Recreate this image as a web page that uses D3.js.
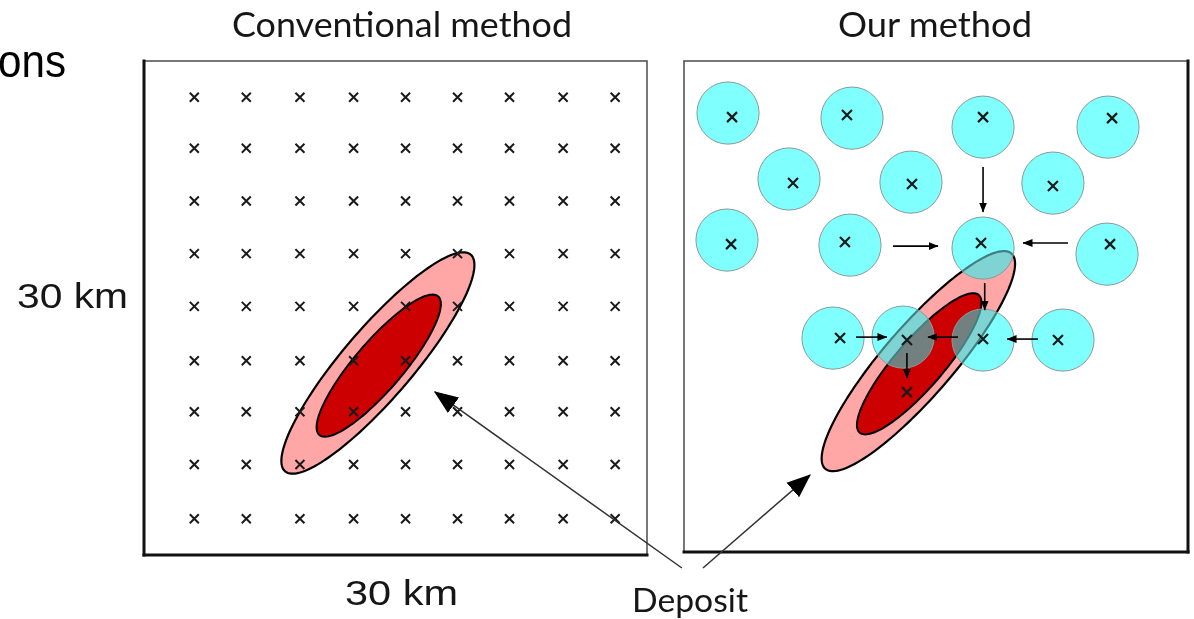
<!DOCTYPE html>
<html>
<head>
<meta charset="utf-8">
<script src="https://cdn.jsdelivr.net/npm/d3@7"></script>
<style>
  body { margin: 0; background: #fff; }
  svg { display: block; }
</style>
</head>
<body>
<div id="chart-container"></div>
<script>
'use strict'

// both panels are 30 km x 30 km
var panelExtent = [0, 30]

// conventional method: regular sampling grid (km east / km north)
var gridEast = [3.0, 6.1, 9.3, 12.5, 15.6, 18.7, 21.8, 25.0, 28.1]
var gridNorth = [27.8, 24.7, 21.5, 18.3, 15.1, 11.8, 8.7, 5.5, 2.2]

// deposit outline: [east, north, semi-major, semi-minor, angle deg]
var depositOuter = [13.95, 11.66, 8.6, 2.1, 50]
var depositInner = [14.0, 11.5, 5.5, 1.45, 50]

// our method: search circles (km) and their radius
var searchRadius = 1.85
var circleEast  = [2.62, 10.0, 17.8, 25.24, 6.25, 13.51, 21.96, 2.56, 9.88, 17.8, 25.18, 8.87, 13.04, 17.8, 22.56]
var circleNorth = [26.82, 26.51, 25.96, 25.96, 22.79, 22.6, 22.54, 19.06, 18.75, 18.57, 18.2, 13.07, 13.13, 12.95, 12.95]

// our method: sample points (km)
var sampleEast  = [2.86, 9.7, 17.8, 25.48, 6.49, 13.57, 21.96, 2.8, 9.58, 17.68, 25.36, 9.29, 13.27, 17.8, 22.26, 13.27]
var sampleNorth = [26.57, 26.7, 26.57, 26.51, 22.54, 22.48, 22.36, 18.81, 18.94, 18.88, 18.81, 13.07, 12.95, 13.01, 12.95, 9.77]

// moves of the search: [fromEast, fromNorth, toEast, toNorth]
var moves = [
    [17.8, 23.52, 17.8, 20.77],
    [12.44, 18.69, 15.12, 18.69],
    [22.86, 18.88, 20.18, 18.88],
    [17.9, 16.43, 17.9, 14.78],
    [10.24, 13.13, 12.08, 13.13],
    [16.31, 13.13, 14.52, 13.13],
    [21.07, 13.01, 19.23, 13.01],
    [13.27, 12.16, 13.27, 10.63]
]

// "Deposit" pointers, in each panel's km: [tailEast, tailNorth, tipEast, tipNorth]
var pointerLeft = [32.08, -0.79, 17.35, 9.9]
var pointerRight = [1.13, -0.98, 7.5, 4.7]

var titles = ['Conventional method', 'Our method']
var sizeLabel = '30 km'
var depositLabel = 'Deposit'

var width = 1194
var height = 619

var svg = d3.select('#chart-container').append('svg')
    .attr('width', width)
    .attr('height', height)

var defs = svg.append('defs')
var addHead = function(id, size) {
    defs.append('marker')
        .attr('id', id)
        .attr('viewBox', '0 0 10 10')
        .attr('refX', 9.5).attr('refY', 5)
        .attr('markerUnits', 'userSpaceOnUse')
        .attr('markerWidth', size).attr('markerHeight', size)
        .attr('orient', 'auto')
        .append('path')
            .attr('d', 'M0,1 L10,5 L0,9 z')
            .attr('fill', '#000')
}
addHead('headS', 10)
addHead('headL', 24)

var panels = [
    {
        x: d3.scaleLinear().domain(panelExtent).range([144, 647]),
        y: d3.scaleLinear().domain(panelExtent).range([555, 61]),
        thick: ['left', 'bottom']
    },
    {
        x: d3.scaleLinear().domain(panelExtent).range([684, 1188]),
        y: d3.scaleLinear().domain(panelExtent).range([552, 61]),
        thick: ['right', 'bottom']
    }
]

var ellipsePoints = function(e) {
    var pts = []
    var th = e[4] * Math.PI / 180
    for (var i = 0; i < 144; i++) {
        var t = 2 * Math.PI * i / 144
        var u = e[2] * Math.cos(t), v = e[3] * Math.sin(t)
        pts.push([e[0] + u * Math.cos(th) - v * Math.sin(th), e[1] + u * Math.sin(th) + v * Math.cos(th)])
    }
    return pts
}

var drawFrame = function(p) {
    let x0 = p.x(panelExtent[0]), x1 = p.x(panelExtent[1])
    let y0 = p.y(panelExtent[1]), y1 = p.y(panelExtent[0])
    svg.append('rect')
        .attr('x', x0).attr('y', y0)
        .attr('width', x1 - x0).attr('height', y1 - y0)
        .attr('fill', '#fff')
        .attr('stroke', '#555')
        .attr('stroke-width', 1.6)
    let sides = {
        left: [x0, y0, x0, y1],
        right: [x1, y0, x1, y1],
        bottom: [x0, y1, x1, y1]
    }
    p.thick.forEach(s => {
        svg.append('line')
            .attr('x1', sides[s][0]).attr('y1', sides[s][1])
            .attr('x2', sides[s][2]).attr('y2', sides[s][3])
            .attr('stroke', '#111')
            .attr('stroke-width', 3)
            .attr('stroke-linecap', 'square')
    })
}

var drawDeposit = function(p) {
    let line = d3.line()
        .x(d => p.x(d[0]))
        .y(d => p.y(d[1]))
        .curve(d3.curveLinearClosed)
    svg.append('path')
        .attr('d', line(ellipsePoints(depositOuter)))
        .attr('fill', '#ffa6a6')
        .attr('stroke', '#000')
        .attr('stroke-width', 2.2)
    svg.append('path')
        .attr('d', line(ellipsePoints(depositInner)))
        .attr('fill', '#cc0000')
        .attr('stroke', '#000')
        .attr('stroke-width', 2)
}

var drawCrosses = function(p, pts, h, w) {
    svg.append('g').selectAll('path').data(pts)
        .enter().append('path')
        .attr('d', d => {
            let cx = p.x(d[0]), cy = p.y(d[1])
            return 'M' + (cx - h) + ',' + (cy - h) + 'L' + (cx + h) + ',' + (cy + h) +
                'M' + (cx - h) + ',' + (cy + h) + 'L' + (cx + h) + ',' + (cy - h)
        })
        .attr('stroke', '#1a1a1a')
        .attr('stroke-width', w)
        .attr('fill', 'none')
}

var drawArrow = function(p, tail, tip, head, w, color) {
    svg.append('line')
        .attr('x1', p.x(tail[0])).attr('y1', p.y(tail[1]))
        .attr('x2', p.x(tip[0])).attr('y2', p.y(tip[1]))
        .attr('stroke', color)
        .attr('stroke-width', w)
        .attr('marker-end', 'url(#' + head + ')')
}

// Left panel: the regular grid.
var left = panels[0]
drawFrame(left)
drawDeposit(left)
var gridPts = []
gridNorth.forEach(n => gridEast.forEach(e => gridPts.push([e, n])))
drawCrosses(left, gridPts, 4.5, 2)

// Right panel: adaptive search circles.
var right = panels[1]
drawFrame(right)
drawDeposit(right)

var circles = circleEast.map((e, i) => [e, circleNorth[i]])
var rPx = right.x(searchRadius) - right.x(0)

// Multiply layer tints what lies beneath, then a half cyan wash on top.
svg.append('g').style('mix-blend-mode', 'multiply')
    .selectAll('circle').data(circles)
    .enter().append('circle')
    .attr('cx', d => right.x(d[0]))
    .attr('cy', d => right.y(d[1]))
    .attr('r', rPx)
    .attr('fill', '#80ffff')
svg.append('g')
    .selectAll('circle').data(circles)
    .enter().append('circle')
    .attr('cx', d => right.x(d[0]))
    .attr('cy', d => right.y(d[1]))
    .attr('r', rPx)
    .attr('fill', '#80ffff')
    .attr('fill-opacity', 0.5)
    .attr('stroke', '#8c9a9a')
    .attr('stroke-width', 1)

drawCrosses(right, sampleEast.map((e, i) => [e, sampleNorth[i]]), 5, 2.2)

moves.forEach(m => drawArrow(right, [m[0], m[1]], [m[2], m[3]], 'headS', 1.6, '#000'))

// Pointers from the "Deposit" label.
drawArrow(left, pointerLeft.slice(0, 2), pointerLeft.slice(2), 'headL', 1.5, '#333')
drawArrow(right, pointerRight.slice(0, 2), pointerRight.slice(2), 'headL', 1.5, '#333')

// Texts
var calibriLike = 'Lato, "Open Sans", sans-serif'
var arialLike = '"Liberation Sans", Arial, sans-serif'

var addText = function(str, x, y, size, family, len, color) {
    svg.append('text')
        .attr('x', x).attr('y', y)
        .attr('font-family', family)
        .attr('font-size', size)
        .attr('fill', color || '#161616')
        .attr('textLength', len)
        .attr('lengthAdjust', 'spacingAndGlyphs')
        .text(str)
}

addText(titles[0], 232, 37, 35, calibriLike, 340)
addText(titles[1], 838, 37, 35, calibriLike, 194)
addText(sizeLabel, 17, 308, 35, arialLike, 111)
addText(sizeLabel, 345, 605, 35, arialLike, 113)
addText(depositLabel, 632, 612, 33, calibriLike, 116)

// Fragments of the slide text that the crop cuts.
addText('ons', -2, 77, 46, arialLike, 68, '#000')
svg.append('text')
    .attr('x', -16).attr('y', -3)
    .attr('font-family', arialLike)
    .attr('font-size', 46)
    .attr('fill', '#000')
    .text('y')
</script>
</body>
</html>
